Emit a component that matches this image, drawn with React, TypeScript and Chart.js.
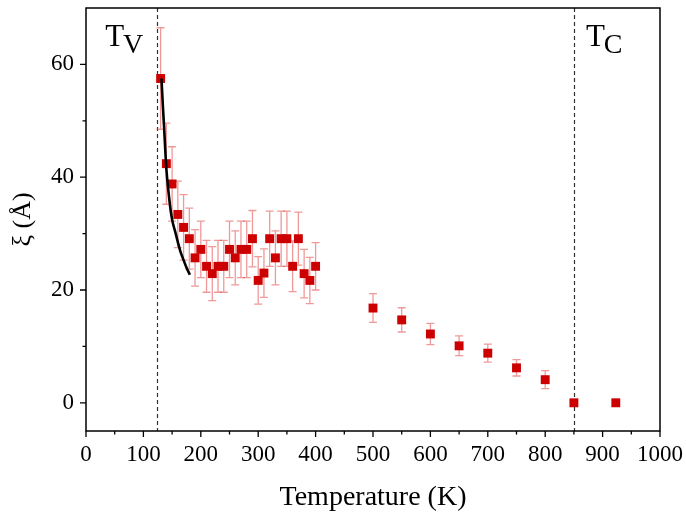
import React, { useEffect, useRef } from "react";
import { Chart, registerables } from "chart.js";

Chart.register(...registerables);

// ---- data ----
const temperatures = [
  130, 140, 150, 160, 170, 180, 190, 200, 210, 220, 230, 240, 250, 260, 270,
  280, 290, 300, 310, 320, 330, 340, 350, 360, 370, 380, 390, 400,
  500, 550, 600, 650, 700, 750, 800, 850, 923,
];
const xiValues = [
  57.5, 42.4, 38.8, 33.4, 31.1, 29.1, 25.7, 27.2, 24.2, 22.9, 24.2, 24.2, 27.2,
  25.7, 27.2, 27.2, 29.1, 21.7, 23.0, 29.1, 25.7, 29.1, 29.1, 24.2, 29.1, 22.9,
  21.7, 24.2,
  16.8, 14.7, 12.2, 10.1, 8.8, 6.2, 4.1, 0, 0,
];
const xiErrors = [
  9.0, 7.2, 6.6, 5.9, 5.8, 5.4, 5.0, 5.0, 4.6, 4.8, 4.6, 4.6, 5.0, 4.8, 5.0,
  5.0, 5.0, 4.2, 4.3, 4.9, 4.8, 4.9, 4.9, 4.5, 4.7, 4.3, 4.1, 4.2,
  2.55, 2.15, 1.9, 1.75, 1.6, 1.45, 1.6, 0, 0,
];
const fitTemperatures = [131.5, 134, 136, 138, 140, 143.5, 147.5, 151, 155, 160, 164, 170, 175, 181];
const fitXi = [57.5, 52.5, 49, 45, 41.5, 37.6, 34.1, 32, 30.5, 28.5, 27, 25.3, 24, 22.7];

const xMajorTicks = [0, 100, 200, 300, 400, 500, 600, 700, 800, 900, 1000];
const xMinorTicks = [50, 150, 250, 350, 450, 550, 650, 750, 850, 950];
const yMajorTicks = [0, 20, 40, 60];
const yMinorTicks = [10, 30, 50];

const transitionTemps = [124, 850];
const transitionLabels = [
  { main: "T", sub: "V", t: 124 },
  { main: "T", sub: "C", t: 850 },
];

const FONT = "'Liberation Serif', 'Times New Roman', Times, serif";

const decorPlugin = {
  id: "decor",
  beforeDatasetsDraw(chart: any) {
    const { ctx, chartArea: a, scales } = chart;
    const x = scales.x;
    const y = scales.y;
    ctx.save();
    ctx.strokeStyle = "#333";
    ctx.lineWidth = 1.2;
    ctx.setLineDash([4, 3]);
    for (const t of transitionTemps) {
      const px = Math.round(x.getPixelForValue(t)) + 0.5;
      ctx.beginPath();
      ctx.moveTo(px, a.top);
      ctx.lineTo(px, a.bottom);
      ctx.stroke();
    }
    ctx.setLineDash([]);
    ctx.strokeStyle = "rgba(225,70,70,0.55)";
    ctx.lineWidth = 1.3;
    temperatures.forEach((t, i) => {
      const e = xiErrors[i];
      if (!e) return;
      const px = x.getPixelForValue(t);
      const top = y.getPixelForValue(xiValues[i] + e);
      const bot = y.getPixelForValue(xiValues[i] - e);
      ctx.beginPath();
      ctx.moveTo(px, top);
      ctx.lineTo(px, bot);
      ctx.moveTo(px - 4, top);
      ctx.lineTo(px + 4, top);
      ctx.moveTo(px - 4, bot);
      ctx.lineTo(px + 4, bot);
      ctx.stroke();
    });
    ctx.restore();
  },
  afterDraw(chart: any) {
    const { ctx, chartArea: a, scales } = chart;
    const x = scales.x;
    const y = scales.y;
    ctx.save();
    ctx.strokeStyle = "#000";
    ctx.lineWidth = 1.5;
    ctx.strokeRect(a.left, a.top, a.right - a.left, a.bottom - a.top);
    ctx.lineWidth = 1.3;
    ctx.beginPath();
    for (const v of xMajorTicks) {
      const px = x.getPixelForValue(v);
      ctx.moveTo(px, a.bottom);
      ctx.lineTo(px, a.bottom + 6);
    }
    for (const v of xMinorTicks) {
      const px = x.getPixelForValue(v);
      ctx.moveTo(px, a.bottom);
      ctx.lineTo(px, a.bottom + 3.5);
    }
    for (const v of yMajorTicks) {
      const py = y.getPixelForValue(v);
      ctx.moveTo(a.left, py);
      ctx.lineTo(a.left - 6, py);
    }
    for (const v of yMinorTicks) {
      const py = y.getPixelForValue(v);
      ctx.moveTo(a.left, py);
      ctx.lineTo(a.left - 3.5, py);
    }
    ctx.stroke();

    ctx.fillStyle = "#000";
    ctx.textBaseline = "alphabetic";
    ctx.textAlign = "left";
    transitionLabels.forEach((lab, i) => {
      const px = x.getPixelForValue(lab.t);
      const startX = i === 0 ? px - 52 : px + 12;
      ctx.font = `31px ${FONT}`;
      ctx.fillText(lab.main, startX, a.top + 38);
      const w = ctx.measureText(lab.main).width;
      ctx.font = `28px ${FONT}`;
      ctx.fillText(lab.sub, startX + w - 1, a.top + 45);
    });
    ctx.restore();
  },
};

const zeroPadding = (scale: any) => {
  scale.paddingTop = 0;
  scale.paddingBottom = 0;
  scale.paddingLeft = 0;
  scale.paddingRight = 0;
};

export default function App() {
  const canvasRef = useRef<HTMLCanvasElement | null>(null);

  useEffect(() => {
    document.body.style.margin = "0";
    const canvas = canvasRef.current;
    if (!canvas) return;
    const chart = new Chart(canvas, {
      type: "scatter",
      data: {
        datasets: [
          {
            type: "line",
            label: "fit",
            data: fitTemperatures.map((t, i) => ({ x: t, y: fitXi[i] })),
            borderColor: "#000",
            borderWidth: 2.6,
            pointRadius: 0,
            showLine: true,
            fill: false,
            cubicInterpolationMode: "monotone",
          } as any,
          {
            label: "xi",
            data: temperatures.map((t, i) => ({ x: t, y: xiValues[i] })),
            pointStyle: "rect",
            pointRadius: 6.3,
            pointHoverRadius: 6.3,
            backgroundColor: "#cc0000",
            borderColor: "#cc0000",
            borderWidth: 0,
          },
        ],
      },
      options: {
        animation: false,
        responsive: false,
        maintainAspectRatio: false,
        events: [],
        layout: { padding: { top: 8, right: 26, left: 0, bottom: 0 } },
        plugins: {
          legend: { display: false },
          tooltip: { enabled: false },
        },
        scales: {
          x: {
            type: "linear",
            min: 0,
            max: 1000,
            afterBuildTicks: (scale: any) => {
              scale.ticks = xMajorTicks.map((v) => ({ value: v }));
            },
            afterFit: (scale: any) => {
              scale.height = 88;
              zeroPadding(scale);
            },
            grid: { display: false, drawTicks: false },
            border: { display: false },
            ticks: {
              color: "#000",
              font: { family: FONT, size: 23 },
              padding: 10,
              maxRotation: 0,
              autoSkip: false,
              callback: (v: any) => String(v),
            },
            title: {
              display: true,
              text: "Temperature (K)",
              color: "#000",
              font: { family: FONT, size: 28 },
              padding: { top: 0, bottom: 5 },
            },
          },
          y: {
            type: "linear",
            min: -5,
            max: 70,
            afterBuildTicks: (scale: any) => {
              scale.ticks = yMajorTicks.map((v) => ({ value: v }));
            },
            afterFit: (scale: any) => {
              scale.width = 86;
              zeroPadding(scale);
            },
            grid: { display: false, drawTicks: false },
            border: { display: false },
            ticks: {
              color: "#000",
              font: { family: FONT, size: 23 },
              padding: 12,
              autoSkip: false,
              callback: (v: any) => String(v),
            },
            title: {
              display: true,
              text: "ξ (Å)",
              color: "#000",
              font: { family: FONT, size: 26 },
              padding: { top: 8, bottom: 0 },
            },
          },
        },
      },
      plugins: [decorPlugin],
    });
    return () => chart.destroy();
  }, []);

  return (
    <div style={{ position: "fixed", left: 0, top: 0, width: 686, height: 519, background: "#fff" }}>
      <canvas ref={canvasRef} width={686} height={519} style={{ width: 686, height: 519 }} />
    </div>
  );
}
